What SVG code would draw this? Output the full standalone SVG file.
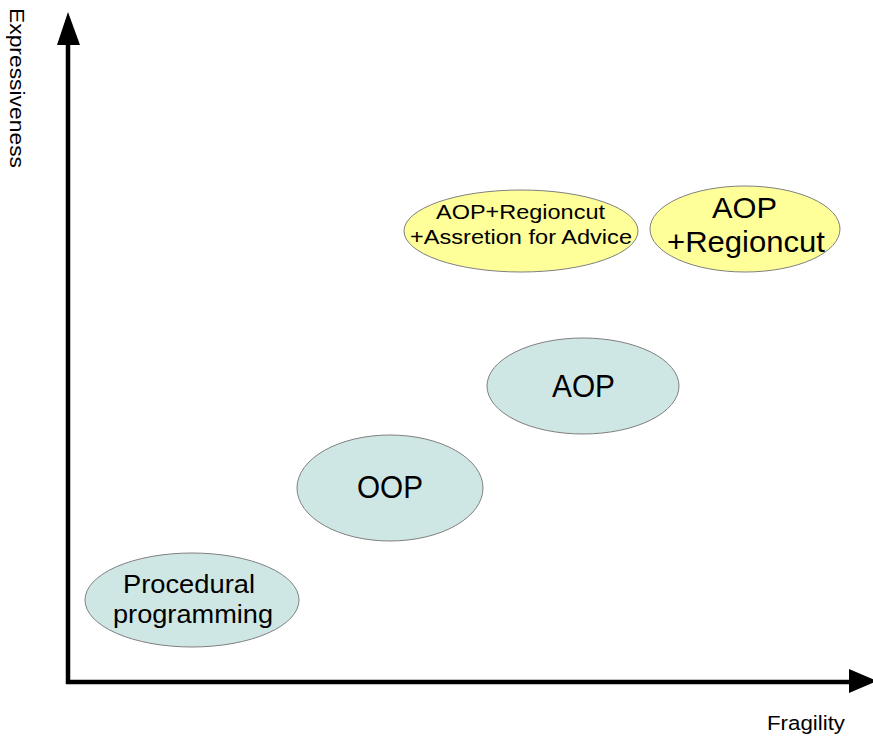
<svg xmlns="http://www.w3.org/2000/svg" width="873" height="738" viewBox="0 0 873 738">
  <style>
    .teal { fill: #cfe7e4; stroke: #7f7f7f; stroke-width: 1; }
    .yellow { fill: #ffff99; stroke: #7f7f7f; stroke-width: 1; }
    .lbl { font-family: "Liberation Sans", Arial, sans-serif; fill: #000; text-anchor: middle; }
    .axis { stroke: #000; stroke-width: 4.5; fill: none; }
    .axis-label { font-family: "Liberation Sans", Arial, sans-serif; font-size: 20.5px; fill: #000; }
  </style>

  <rect width="873" height="738" fill="#fff"/>

  <!-- axes -->
  <g id="connectors">
    <line class="axis" x1="68" y1="684" x2="68" y2="42"/>
    <polygon points="68,12 57,45 80,45" fill="#000"/>
    <line class="axis" x1="66" y1="682" x2="852" y2="682"/>
    <polygon points="877,681 849,669 849,693" fill="#000"/>
  </g>

  <g id="axis-y-label">
    <text class="axis-label" transform="translate(10,8) rotate(90)" textLength="160" lengthAdjust="spacingAndGlyphs">Expressiveness</text>
  </g>
  <g id="axis-x-label">
    <text class="axis-label" x="767" y="730" textLength="78" lengthAdjust="spacingAndGlyphs">Fragility</text>
  </g>

  <g id="procedural">
    <ellipse class="teal" cx="192" cy="600" rx="107" ry="47"/>
    <text class="lbl" x="189" y="593" font-size="26.5" textLength="132" lengthAdjust="spacingAndGlyphs">Procedural</text>
    <text class="lbl" x="193" y="623" font-size="26.5" textLength="160" lengthAdjust="spacingAndGlyphs">programming</text>
  </g>

  <g id="oop">
    <ellipse class="teal" cx="390" cy="488" rx="93" ry="53"/>
    <text class="lbl" x="390" y="498" font-size="30.5" textLength="66" lengthAdjust="spacingAndGlyphs">OOP</text>
  </g>

  <g id="aop">
    <ellipse class="teal" cx="583" cy="386" rx="96" ry="48"/>
    <text class="lbl" x="583.5" y="397" font-size="30.5" textLength="63" lengthAdjust="spacingAndGlyphs">AOP</text>
  </g>

  <g id="aop-regioncut-assertion">
    <ellipse class="yellow" cx="521" cy="231" rx="117" ry="41"/>
    <text class="lbl" x="520.5" y="219" font-size="20" textLength="169" lengthAdjust="spacingAndGlyphs">AOP+Regioncut</text>
    <text class="lbl" x="521" y="244" font-size="20" textLength="222" lengthAdjust="spacingAndGlyphs">+Assretion for Advice</text>
  </g>

  <g id="aop-regioncut">
    <ellipse class="yellow" cx="745" cy="229" rx="95" ry="43"/>
    <text class="lbl" x="744.5" y="218" font-size="29.5" textLength="65" lengthAdjust="spacingAndGlyphs">AOP</text>
    <text class="lbl" x="746" y="251.5" font-size="29.5" textLength="158" lengthAdjust="spacingAndGlyphs">+Regioncut</text>
  </g>
</svg>
